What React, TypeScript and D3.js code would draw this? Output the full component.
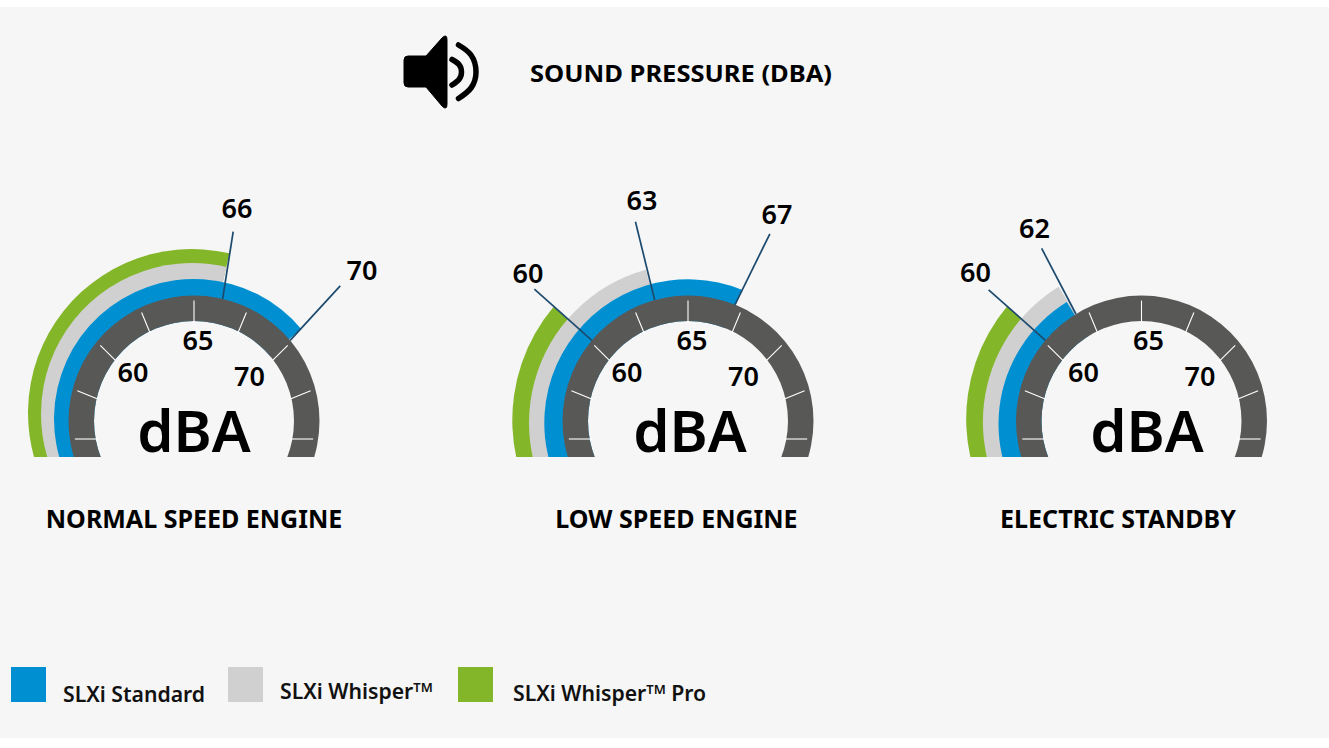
import React from "react";
import * as d3 from "d3";

// ---- data ----
const gaugeNames = ["NORMAL SPEED ENGINE", "LOW SPEED ENGINE", "ELECTRIC STANDBY"];
const seriesNames = ["SLXi Standard", "SLXi Whisper", "SLXi Whisper Pro"];
const standardValues = [70, 67, 62];
const whisperValues = [66, 63, 62];
const whisperProValues = [66, 60, 60];
const scaleLabels = [60, 65, 70];
const calloutValues = [[66, 70], [60, 63, 67], [60, 62]];
// dial calibration (dBA -> degrees from vertical)
const dialValues = [60, 62, 63, 65, 66, 67, 70];
const dialDegrees = [-50, -31.5, -15.4, 0, 13.2, 22, 50];

// ---- layout / style ----
const W = 1329, H = 748;
const BG = "#f6f6f6";
const colors = ["#0090d2", "#d0d0d0", "#84b629"];
const DARK = "#585857";
const LEADER = "#1c4a6e";
const FONT = "'Noto Sans', 'Open Sans', sans-serif";
const centers = [194, 688, 1141.5];
const CY = 421, CLIP_Y = 457, R_OUT = 125.5, R_IN = 100;
const TICK_OY = 18, TICK_R0 = 97.5, TICK_R1 = 120.5;
// [dx, dy, r] for each band (standard, whisper, pro)
const bandGeom = [
  [[0, -2, 140], [-2, -7, 151], [-2, -8, 164]],
  [[0, 2, 143.7], [0, 2, 159], [0, -1, 175.7]],
  [[0, 3, 143], [0, 1, 158.6], [0, -2, 175.3]],
];
// [direction deg, length, label dx, label dy] per callout
const calloutGeom = [
  [[8.9, 68, 43, -214], [42.6, 74, 168, -152]],
  [[-48.3, 77, -160, -149], [-13.8, 80.6, -46, -222], [26.2, 79, 89, -208]],
  [[-48.3, 76, -166, -150], [-27.6, 74, -107, -194]],
];
const labelShift = [0, 0, 3];
const unitShift = [0, 2, 5.5];
const scaleLabelPos = [[-61, -49.5], [4, -81.5], [55.5, -46]];
const titleGeom = [[194, 519], [676.5, 519], [1118, 519]];
const legendX = [11, 228, 458];
const legendTextX = [63, 280, 513];
const legendBase = [702, 699, 701];

const angle = d3.scaleLinear().domain(dialValues).range(dialDegrees);
const rad = (d: number) => (d * Math.PI) / 180;
const tickAngles = d3.range(-90, 90.1, 22.5);

// where a ray from the tick origin meets a circle round the gauge centre
function rayHit(theta: number, r: number) {
  const dx = Math.sin(rad(theta)), dy = -Math.cos(rad(theta));
  const b = dy * TICK_OY;
  const t = -b + Math.sqrt(b * b - (TICK_OY * TICK_OY - r * r));
  return [dx * t, TICK_OY + dy * t];
}

function Gauge({ i }: { i: number }) {
  const cx = centers[i];
  const vals = [whisperProValues[i], whisperValues[i], standardValues[i]];
  const bandIdx = [2, 1, 0];
  const ring = d3.arc()({
    innerRadius: R_IN, outerRadius: R_OUT,
    startAngle: -Math.PI * 0.75, endAngle: Math.PI * 0.75,
  } as any)!;
  return (
    <g>
      <defs>
        <clipPath id={`clip${i}`}>
          <rect x={cx - 200} y={0} width={400} height={CLIP_Y} />
        </clipPath>
      </defs>
      <g clipPath={`url(#clip${i})`}>
        {bandIdx.map((b, k) => {
          const [dx, dy, r] = bandGeom[i][b];
          const path = d3.arc()({
            innerRadius: 0, outerRadius: r,
            startAngle: -Math.PI * 0.75, endAngle: rad(angle(vals[k])),
          } as any)!;
          return <path key={b} d={path} transform={`translate(${cx + dx},${CY + dy})`} fill={colors[b]} />;
        })}
        <circle cx={cx} cy={CY} r={R_IN} fill={BG} />
        <path d={ring} transform={`translate(${cx},${CY})`} fill={DARK} />
        {tickAngles.map((t) => {
          const a = rayHit(t, TICK_R0), c = rayHit(t, TICK_R1);
          return (
            <line key={t} x1={cx + a[0]} y1={CY + a[1]} x2={cx + c[0]} y2={CY + c[1]}
              stroke="#ffffff" strokeWidth={1.1} />
          );
        })}
      </g>
      {calloutValues[i].map((v, k) => {
        const [dir, len, lx, ly] = calloutGeom[i][k];
        const a = rad(angle(v));
        const x0 = cx + Math.sin(a) * R_OUT, y0 = CY - Math.cos(a) * R_OUT;
        const x1 = x0 + Math.sin(rad(dir)) * len, y1 = y0 - Math.cos(rad(dir)) * len;
        return (
          <g key={v}>
            <line x1={x0} y1={y0} x2={x1} y2={y1} stroke={LEADER} strokeWidth={1.7} />
            <text x={cx + lx} y={CY + ly} textAnchor="middle" dominantBaseline="central"
              fontFamily={FONT} fontWeight={600} fontSize={27} fill="#000">{v}</text>
          </g>
        );
      })}
      {scaleLabels.map((v, k) => (
        <text key={v} x={cx + scaleLabelPos[k][0] + labelShift[i]} y={CY + scaleLabelPos[k][1]}
          textAnchor="middle" dominantBaseline="central"
          fontFamily={FONT} fontWeight={600} fontSize={27} fill="#000">{v}</text>
      ))}
      <text x={cx + unitShift[i]} y={451.5} textAnchor="middle"
        fontFamily={FONT} fontWeight={600} fontSize={58} fill="#000">dBA</text>
    </g>
  );
}

function Speaker() {
  const arcGen = d3.line().curve(d3.curveNatural);
  const inner = [[452, 59.5], [459, 64.5], [461.5, 72], [459, 79.5], [452, 85]];
  const outer = [[458.5, 45], [471, 55], [476, 72], [471, 88], [458.5, 98.5]];
  return (
    <g>
      <path
        d="M408 56 H426 L442 38 Q447 33 447 40 V104 Q447 111 442 106 L426 87 H408 Q404 87 404 83 V60 Q404 56 408 56 Z"
        fill="#000" stroke="#000" strokeWidth={1} strokeLinejoin="round" />
      <path d={arcGen(inner as any)!} fill="none" stroke="#000" strokeWidth={5.5} strokeLinecap="round" />
      <path d={arcGen(outer as any)!} fill="none" stroke="#000" strokeWidth={5.5} strokeLinecap="round" />
    </g>
  );
}

export default function App() {
  return (
    <svg width={W} height={H} viewBox={`0 0 ${W} ${H}`}
      style={{ position: "absolute", left: 0, top: 0, display: "block" }}>
      <rect width={W} height={H} fill="#fff" />
      <rect x={0} y={7} width={W} height={731} fill={BG} />
      <Speaker />
      <text x={530} y={81.5} fontFamily={FONT} fontWeight={700} fontSize={22.5} fill="#000"
        textLength={302} lengthAdjust="spacingAndGlyphs">SOUND PRESSURE (DBA)</text>
      {gaugeNames.map((n, i) => <Gauge key={n} i={i} />)}
      {gaugeNames.map((n, i) => (
        <text key={n} x={titleGeom[i][0]} y={titleGeom[i][1] + 8.5} textAnchor="middle"
          fontFamily={FONT} fontWeight={700} fontSize={25} fill="#000">{n}</text>
      ))}
      {seriesNames.map((s, i) => (
        <g key={s}>
          <rect x={legendX[i]} y={667} width={35} height={35} fill={colors[i]} />
          <text x={legendTextX[i]} y={legendBase[i]} fontFamily={FONT} fontWeight={600} fontSize={21.2} fill="#111">
            {i === 0 ? s : (
              <>
                SLXi Whisper
                <tspan fontSize={13} dy={-7}>TM</tspan>
                {i === 2 ? <tspan dy={7}> Pro</tspan> : null}
              </>
            )}
          </text>
        </g>
      ))}
    </svg>
  );
}
